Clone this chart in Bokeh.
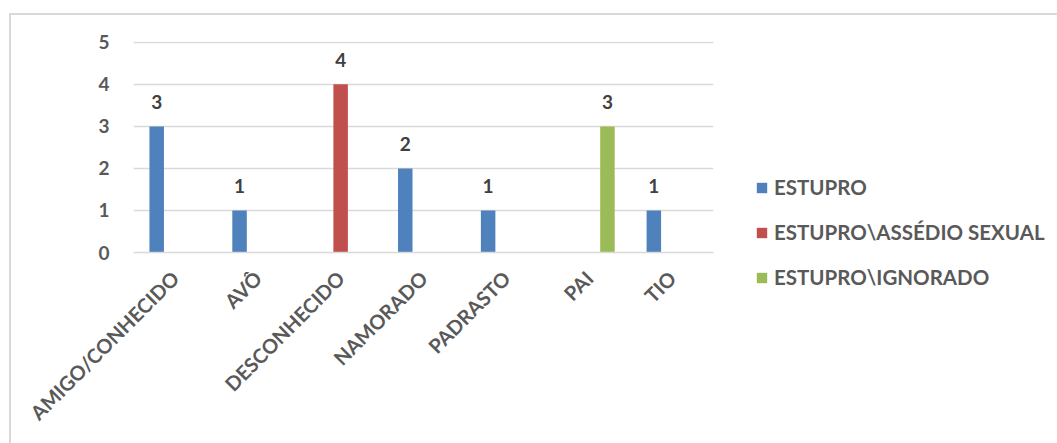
import math
from bokeh.plotting import figure
from bokeh.models import (ColumnDataSource, FactorRange, Range1d, FixedTicker,
                          Legend, LegendItem)
from bokeh.transform import dodge
from bokeh.core.properties import value
from bokeh.embed import file_html
from bokeh.resources import INLINE

# Agressor x tipo de violência
categories = ["AMIGO/CONHECIDO", "AVÔ", "DESCONHECIDO", "NAMORADO",
              "PADRASTO", "PAI", "TIO"]
estupro = [3, 1, 0, 2, 1, 0, 1]
estupro_assedio = [0, 0, 4, 0, 0, 0, 0]
estupro_ignorado = [0, 0, 0, 0, 0, 3, 0]
series_names = ["ESTUPRO", "ESTUPRO\\ASSÉDIO SEXUAL", "ESTUPRO\\IGNORADO"]
y_ticks = [0, 1, 2, 3, 4, 5]

colors = ["#4F81BD", "#C0504D", "#9BBB59"]
offsets = [-0.22, 0.0, 0.22]
bar_w = 0.175
FONT = "Lato"
TXT = "#595959"

source = ColumnDataSource(dict(cat=categories, s0=estupro,
                               s1=estupro_assedio, s2=estupro_ignorado))

p = figure(x_range=FactorRange(*categories), y_range=Range1d(0, 5.02),
           frame_width=580, frame_height=211, output_backend="svg",
           toolbar_location=None, tools="",
           min_border_left=122, min_border_right=0,
           min_border_top=26, min_border_bottom=191)
p.styles = {"margin-left": "9px", "margin-top": "13px",
            "border-left": "2px solid #d9d9d9",
            "border-top": "2px solid #d9d9d9"}
p.outline_line_color = None
p.background_fill_color = "white"
p.border_fill_color = "white"

renderers = []
for i, key in enumerate(["s0", "s1", "s2"]):
    r = p.vbar(x=dodge("cat", offsets[i], range=p.x_range), top=key,
               width=bar_w, source=source, fill_color=colors[i],
               line_color=None)
    renderers.append(r)

# value labels above non-zero bars
for i, vals in enumerate([estupro, estupro_assedio, estupro_ignorado]):
    cats = [c for c, v in zip(categories, vals) if v > 0]
    vs = [v for v in vals if v > 0]
    ls = ColumnDataSource(dict(cat=cats, v=vs, t=[str(v) for v in vs]))
    p.text(x=dodge("cat", offsets[i], range=p.x_range), y="v", text="t",
           source=ls, text_align="center", text_baseline="alphabetic",
           y_offset=-24, text_font=value(FONT), text_font_style="bold",
           text_font_size="19px", text_color="#404040")

# axes
p.yaxis.ticker = FixedTicker(ticks=y_ticks)
p.yaxis.axis_line_color = None
p.yaxis.major_tick_line_color = None
p.yaxis.minor_tick_line_color = None
p.yaxis.major_label_standoff = 18
p.yaxis.major_label_text_font = FONT
p.yaxis.major_label_text_font_style = "bold"
p.yaxis.major_label_text_font_size = "19px"
p.yaxis.major_label_text_color = TXT

p.xaxis.axis_line_color = "#d9d9d9"
p.xaxis.axis_line_width = 1.5
p.xaxis.major_tick_line_color = None
p.xaxis.minor_tick_line_color = None
p.xaxis.major_label_orientation = math.pi / 4
p.xaxis.major_label_standoff = 16
p.xaxis.major_label_text_font = FONT
p.xaxis.major_label_text_font_style = "bold"
p.xaxis.major_label_text_font_size = "20px"
p.xaxis.major_label_text_color = TXT

p.xgrid.grid_line_color = None
p.ygrid.grid_line_color = "#d9d9d9"
p.ygrid.grid_line_width = 1.5

# legend on the right side; a blank title spaces the entries down
legend = Legend(items=[LegendItem(label=series_names[i], renderers=[renderers[i]])
                       for i in range(3)],
                location="top_left", orientation="vertical",
                title=" ", title_text_font_size="2px", title_standoff=90,
                glyph_width=13, glyph_height=13, label_standoff=6,
                label_width=271, label_height=20, spacing=21,
                padding=0, margin=42,
                border_line_color=None, background_fill_alpha=0,
                label_text_font=FONT, label_text_font_style="bold",
                label_text_font_size="20.5px", label_text_color=TXT)
p.add_layout(legend, "right")

open("out.html", "w").write(file_html(p, INLINE))
